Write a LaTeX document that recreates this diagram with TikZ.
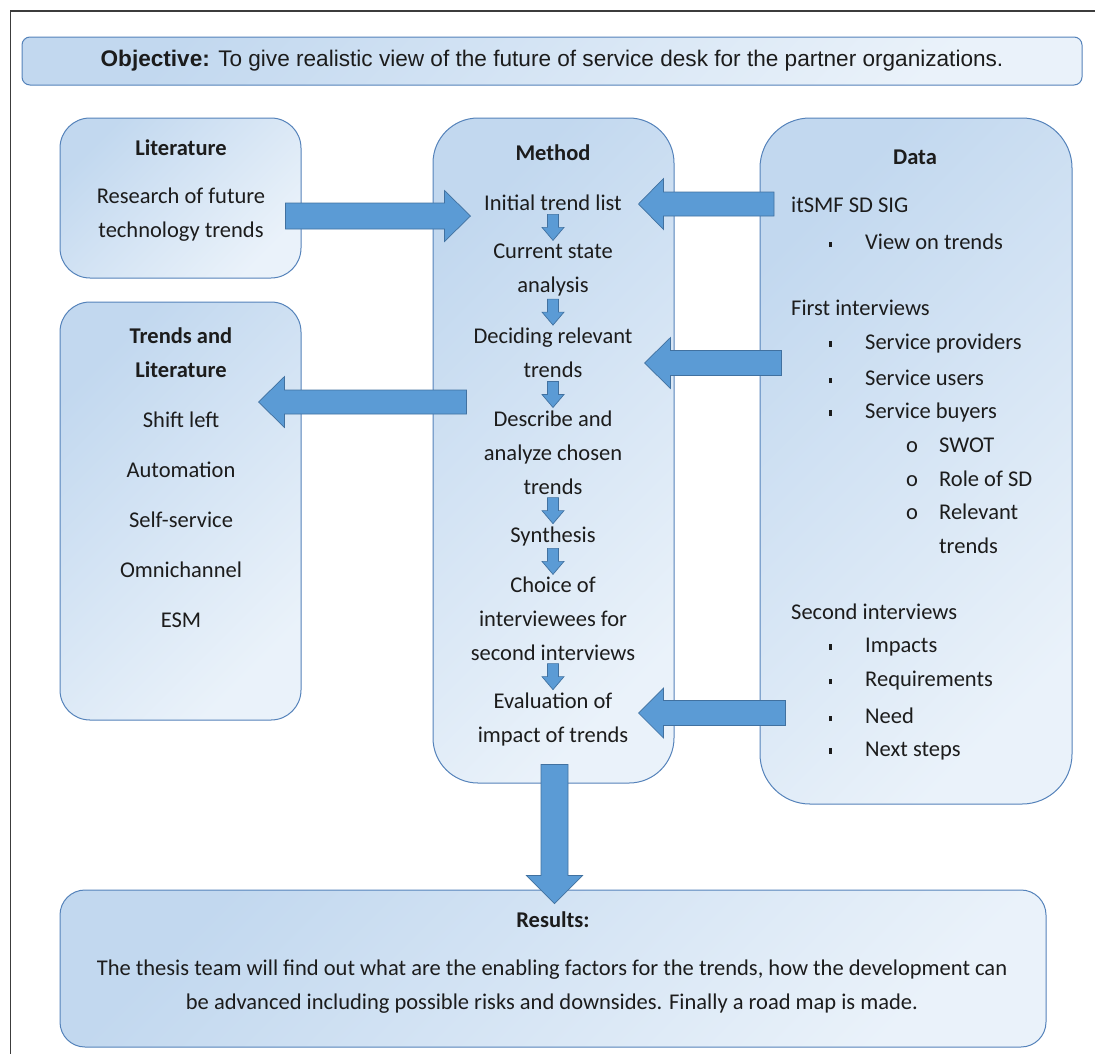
\documentclass[tikz,border=0pt]{standalone}
\usepackage{fontspec}
\setmainfont{Carlito}
\newfontfamily\arialfont{Liberation Sans}
\usetikzlibrary{calc}
\definecolor{boxblue}{RGB}{194,216,239}
\definecolor{boxlight}{RGB}{234,242,250}
\definecolor{boxline}{RGB}{84,130,186}
\definecolor{arrowfill}{RGB}{91,155,213}
\definecolor{arrowline}{RGB}{65,113,160}
\definecolor{framegray}{RGB}{60,60,60}
\definecolor{textdark}{RGB}{28,28,28}

\tikzset{
  panel/.style={draw=boxline, line width=1pt, top color=boxblue, bottom color=boxlight,
    shading angle=45, inner sep=0pt, text=textdark},
  txt/.style={font=\fontsize{22.5}{34}\selectfont, text=textdark, align=center, inner sep=0pt},
  ttl/.style={txt, font=\fontsize{22.5}{34}\selectfont\bfseries},
  item/.style={txt, anchor=west, align=left},
  flowarrow/.style={fill=arrowfill, draw=arrowline, line width=0.7pt},
}

% block arrow: from, tip, half shaft, half head, head length
\newcommand\blockarrow[5]{%
  \coordinate (ah) at ($(#2)!#5!(#1)$);
  \draw[flowarrow] ($(#1)!#3!90:(#2)$) -- ($(ah)!#3!90:(#2)$) -- ($(ah)!#4!90:(#2)$)
    -- (#2) -- ($(ah)!#4!-90:(#2)$) -- ($(ah)!#3!-90:(#2)$) -- ($(#1)!#3!-90:(#2)$) -- cycle;
}
\newcommand\tick{\rule[2.5pt]{2.4pt}{5.5pt}}

\begin{document}
\begin{tikzpicture}[x=1pt, y=-1pt]
    \useasboundingbox (0,0) rectangle (1095,1053);

    % Outer frame
    \draw[framegray, line width=1.1pt] (10.5,1060) -- (10.5,11) -- (1100,11);

    % Objective
    \node[panel, rounded corners=8pt, minimum width=1060pt, minimum height=48pt,
      font=\arialfont\fontsize{22.6}{26}\selectfont] (objective) at (552,61)
      {\textbf{Objective:} To give realistic view of the future of service desk for the partner organizations.};

    % Panels
    \node[panel, rounded corners=30pt, minimum width=241pt, minimum height=160pt] (literature) at (180.5,198) {};
    \node[panel, rounded corners=30pt, minimum width=241pt, minimum height=418pt] (trends) at (180.5,511) {};
    \node[panel, rounded corners=45pt, minimum width=241pt, minimum height=665pt] (method) at (553.5,450.5) {};
    \node[panel, rounded corners=50pt, minimum width=312pt, minimum height=686pt] (data) at (916,461) {};
    \node[panel, rounded corners=25pt, minimum width=986pt, minimum height=157pt] (results) at (553,968.5) {};

    % Literature
    \node[ttl] (littitle) at (181,148) {Literature};
    \node[txt] (research) at (181,215) {Research of future\\technology trends};

    % Trends and literature
    \node[ttl] (trendstitle) at (181,353) {Trends and\\Literature};
    \foreach \name [count=\i] in {Shift left, Automation, Self-service, Omnichannel, ESM}
        \node[txt] (trend\i) at (181,370+50*\i) {\name};

    % Method steps
    \node[ttl] (methodtitle) at (553,153) {Method};
    \node[txt] (m1) at (553,203) {Initial trend list};
    \node[txt] (m2) at (553,270) {Current state\\analysis};
    \node[txt] (m3) at (553,353) {Deciding relevant\\trends};
    \node[txt] (m4) at (553,453) {Describe and\\analyze chosen\\trends};
    \node[txt] (m5) at (553,536) {Synthesis};
    \node[txt] (m6) at (553,619) {Choice of\\interviewees for\\second interviews};
    \node[txt] (m7) at (553,719) {Evaluation of\\impact of trends};

    % Data
    \node[ttl] (datatitle) at (915,157) {Data};
    \node[item] (itsmf) at (791,205) {itSMF SD SIG};
    \node[item] (view) at (829,242) {\makebox[36pt][l]{\tick}View on trends};
    \node[item] (first) at (791,308) {First interviews};
    \foreach \txt/\y/\nm in {Service providers/343/sprov, Service users/378/susers, Service buyers/412/sbuy}
        \node[item] (\nm) at (829,\y) {\makebox[36pt][l]{\tick}\txt};
    \foreach \txt/\y/\nm in {SWOT/445/swot, Role of SD/479/role, Relevant/512/relev}
        \node[item] (\nm) at (906,\y) {\makebox[33pt][l]{o}\txt};
    \node[item] (relev2) at (939,546) {trends};
    \node[item] (second) at (791,612) {Second interviews};
    \foreach \txt/\y/\nm in {Impacts/647/impacts, Requirements/681/req, Need/716/need, Next steps/751/next}
        \node[item] (\nm) at (829,\y) {\makebox[36pt][l]{\tick}\txt};

    % Results
    \node[ttl] (restitle) at (553,920) {Results:};
    \node[txt] (restext) at (552,987) {The thesis team will find out what are the enabling factors for the trends, how the development can\\be advanced including possible risks and downsides. Finally a road map is made.};

    % Small arrows between steps
    \foreach \a/\b in {m1/m2, m2/m3, m3/m4, m4/m5, m5/m6, m6/m7} {
        \coordinate (mid) at ($(\a.south)!0.5!(\b.north)$);
        \coordinate (sa) at ($(mid)+(0,-13)$);
        \coordinate (sb) at ($(mid)+(0,13)$);
        \blockarrow{sa}{sb}{5.5pt}{11pt}{13pt}
    }

    % Big arrows
    \coordinate (a1s) at ($(literature.east)+(-16,18)$);
    \coordinate (a1e) at ($(method.west |- a1s)+(38,0)$);
    \blockarrow{a1s}{a1e}{13pt}{25.5pt}{26pt}

    \coordinate (a2s) at ($(itsmf.west)+(-17,-1)$);
    \coordinate (a2e) at ($(method.east |- a2s)+(-36,0)$);
    \blockarrow{a2s}{a2e}{12pt}{25.5pt}{25pt}

    \coordinate (a3s) at ($(data.west |- m3)+(22,10)$);
    \coordinate (a3e) at ($(method.east |- a3s)+(-30,0)$);
    \blockarrow{a3s}{a3e}{12.5pt}{25.5pt}{26pt}

    \coordinate (a4s) at ($(data.west |- m7)+(26,-6)$);
    \coordinate (a4e) at ($(method.east |- a4s)+(-36,0)$);
    \blockarrow{a4s}{a4e}{12.5pt}{25pt}{25pt}

    \coordinate (a5s) at ($(method.west)+(34,-48.5)$);
    \coordinate (a5e) at ($(trends.east |- a5s)+(-43,0)$);
    \blockarrow{a5s}{a5e}{12pt}{25.5pt}{26pt}

    \coordinate (a6s) at ($(method.south)+(1,-19)$);
    \coordinate (a6e) at ($(a6s |- results.north)+(0,14)$);
    \blockarrow{a6s}{a6e}{13.5pt}{28pt}{28pt}
\end{tikzpicture}
\end{document}
